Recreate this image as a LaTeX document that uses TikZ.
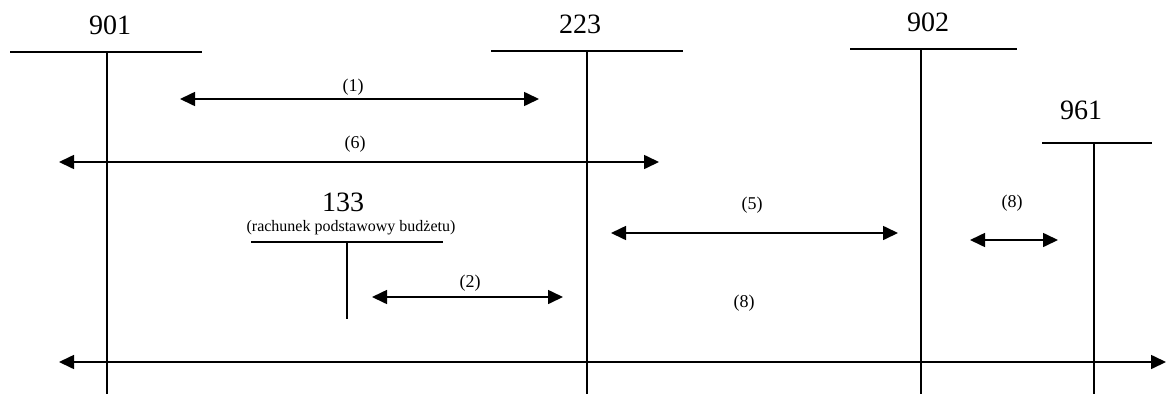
\documentclass[tikz,border=0pt]{standalone}
\usepackage{fontspec}
\setmainfont{Liberation Serif}
\usetikzlibrary{arrows.meta, graphs}
\tikzset{
>={Triangle[length=15pt,width=14pt]},
konto/.style={%
    inner sep=0pt,
    % Font
    font=\fontsize{28}{30}\selectfont
},
opis/.style={inner sep=0pt,font=\fontsize{16}{18}\selectfont},
nr/.style={inner sep=0pt,font=\fontsize{18}{20}\selectfont},
}

\begin{document}
\begin{tikzpicture}[x=1pt, y=-1pt, line width=1.6pt]
	\useasboundingbox (0,0) rectangle (1166,394);
	% konta
	\node[konto] (k901) at (110,25) {901};
	\node[konto] (k223) at (580,24) {223};
	\node[konto] (k902) at (928,22) {902};
	\node[konto] (k961) at (1081,110) {961};
	\node[konto] (k133) at (343,202) {133};
	\node[opis] (r133) at (351,228) {(rachunek podstawowy budżetu)};
	\coordinate (k901w) at (10,52);   \coordinate (k901e) at (202,52);
	\coordinate (k901n) at (107,52);  \coordinate (k901s) at (107,394);
	\coordinate (k223w) at (491,51);  \coordinate (k223e) at (683,51);
	\coordinate (k223n) at (587,51);  \coordinate (k223s) at (587,394);
	\coordinate (k902w) at (850,49);  \coordinate (k902e) at (1017,49);
	\coordinate (k902n) at (921,49);  \coordinate (k902s) at (921,394);
	\coordinate (k961w) at (1042,143); \coordinate (k961e) at (1152,143);
	\coordinate (k961n) at (1094,143); \coordinate (k961s) at (1094,394);
	\coordinate (k133w) at (251,242); \coordinate (k133e) at (443,242);
	\coordinate (k133n) at (347,242); \coordinate (k133s) at (347,319);
	% operacje
	\coordinate (o1a) at (180,99);  \coordinate (o1b) at (539,99);
	\coordinate (o6a) at (59,162);  \coordinate (o6b) at (659,162);
	\coordinate (o2a) at (372,297); \coordinate (o2b) at (563,297);
	\coordinate (o5a) at (611,233); \coordinate (o5b) at (898,233);
	\coordinate (o8a) at (970,240); \coordinate (o8b) at (1058,240);
	\coordinate (o9a) at (59,362);  \coordinate (o9b) at (1166,362);
	\node[nr] (n1) at (353,87) {(1)};
	\node[nr] (n6) at (355,144) {(6)};
	\node[nr] (n2) at (470,283) {(2)};
	\node[nr] (n5) at (752,205) {(5)};
	\node[nr] (n8) at (1012,203) {(8)};
	\node[nr] (n9) at (744,303) {(8)};

\graph [use existing nodes] {
k901w -- k901e; k901n -- k901s;
k223w -- k223e; k223n -- k223s;
k902w -- k902e; k902n -- k902s;
k961w -- k961e; k961n -- k961s;
k133w -- k133e; k133n -- k133s;
o1a <-> o1b; o6a <-> o6b; o2a <-> o2b;
o5a <-> o5b; o8a <-> o8b; o9a <-> o9b;
};
\end{tikzpicture}
\end{document}
